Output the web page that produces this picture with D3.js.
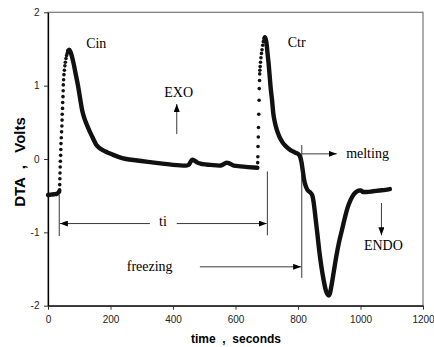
<!DOCTYPE html>
<html>
<head>
<meta charset="utf-8">
<script src="https://cdn.jsdelivr.net/npm/d3@7"></script>
<style>
body { margin: 0; background: #fff; }
svg text { font-family: "Liberation Sans", Arial, sans-serif; }
.note { font-family: "Liberation Serif", "Times New Roman", serif; font-size: 14px; }
.lab { font-weight: bold; white-space: pre; }
</style>
</head>
<body>
<div id="chart"></div>
<script>
// DTA trace, [time s, volts]
var startLine = [[0,-0.49],[10,-0.485],[20,-0.48],[28,-0.475],[33,-0.46],[36,-0.44]];
var cinRise = [[37,-0.42],[37.5,-0.35],[38,-0.27],[38.5,-0.19],[39,-0.11],[39.5,-0.03],[40.5,0.05],[41,0.13],
  [41.5,0.21],[42.5,0.29],[43.5,0.37],[44.5,0.45],[45,0.53],[45.5,0.61],[46.5,0.69],[47,0.77],[48,0.85],
  [48.5,0.93],[49,1.01],[50,1.08],[51,1.15],[52.5,1.21],[54,1.27],[55.5,1.32],[57.5,1.37],[59.5,1.41],
  [61.5,1.44],[63.5,1.47]];
var cinTail = [[65,1.48],[68,1.49],[72,1.46],[77,1.39],[82,1.3],[89,1.15],[96,1.0],[103,0.82],[109,0.67],
  [116,0.56],[124,0.47],[133,0.38],[142,0.3],[150,0.23],[155,0.19],[162,0.16],[175,0.12],[190,0.09],
  [207,0.06],[225,0.03],[250,0.0],[285,-0.02],[320,-0.04],[360,-0.06],[400,-0.08],[440,-0.09],[450,-0.08],
  [456,-0.04],[462,-0.01],[468,-0.02],[478,-0.05],[495,-0.07],[520,-0.08],[548,-0.09],[558,-0.08],
  [566,-0.06],[572,-0.05],[580,-0.06],[595,-0.09],[615,-0.1],[640,-0.11],[670,-0.12]];
var ctrRise = [[671,-0.05],[671.5,0.03],[672,0.17],[673,0.3],[673.5,0.43],[674.5,0.61],[675.5,0.8],[676,0.96],
  [677,1.07],[677.5,1.16],[678,1.21],[679,1.26],[680,1.32],[681.5,1.38],[683,1.44],[685,1.49],[687,1.55],
  [689,1.6],[691,1.64],[693,1.66]];
var ctrTail = [[694,1.66],[697,1.63],[700,1.55],[703,1.42],[706,1.3],[709,1.15],[713,0.95],[717,0.8],[721,0.62],
  [726,0.5],[732,0.4],[740,0.31],[750,0.23],[762,0.17],[776,0.12],[790,0.09],[800,0.07],[806,0.04],[811,-0.04],
  [815,-0.15],[819,-0.27],[824,-0.36],[830,-0.42],[840,-0.46],[846,-0.5],[851,-0.62],[856,-0.8],[862,-1.02],
  [868,-1.25],[875,-1.47],[882,-1.65],[889,-1.79],[895,-1.85],[899,-1.86],[903,-1.82],[907,-1.73],[914,-1.55],
  [922,-1.34],[931,-1.14],[941,-0.96],[950,-0.8],[959,-0.66],[968,-0.56],[977,-0.49],[986,-0.45],[996,-0.43],
  [1002,-0.43],[1008,-0.45],[1020,-0.45],[1040,-0.44],[1060,-0.43],[1080,-0.42],[1094,-0.41]];

var xTicks = [0,200,400,600,800,1000,1200];
var yTicks = [-2,-1,0,1,2];

// annotations in data units
var notes = [["Cin",122,1.51],["Ctr",767,1.53],["EXO",372,0.84],["melting",954,0.01],
  ["freezing",252,-1.53],["ENDO",1011,-1.24]];
var guides = [[36,-0.49,36,-1.05],[702,-0.17,702,-1.04],[812,0.19,812,-1.62]];
var arrows = [[412,0.34,412,0.75],[812,0.07,924,0.07],[486,-1.47,810,-1.47],[326,-0.88,38,-0.88],
  [412,-0.88,700,-0.88],[1067,-0.6,1067,-1.04]];

function drawDTA(){
var width = 434;
var height = 347;
var x = d3.scaleLinear().domain([0,1200]).range([48,423]);
var y = d3.scaleLinear().domain([-2,2]).range([305.7,12.3]);

var svg = d3.select("#chart").append("svg").attr("width", width).attr("height", height);

svg.append("defs").append("marker").attr("id","head")
  .attr("viewBox","0 0 8 6").attr("refX",8).attr("refY",3)
  .attr("markerWidth",8).attr("markerHeight",6)
  .attr("markerUnits","userSpaceOnUse").attr("orient","auto")
  .append("path").attr("d","M0,0L8,3L0,6Z").attr("fill","#000");

svg.append("rect").attr("x",x(0)).attr("y",y(2))
  .attr("width",x(1200)-x(0)).attr("height",y(-2)-y(2))
  .attr("fill","none").attr("stroke","#777").attr("stroke-width",1.2);

var xAxis = svg.append("g").attr("transform","translate(0,"+y(-2)+")")
  .call(d3.axisBottom(x).tickValues(xTicks).tickSize(4).tickSizeOuter(0).tickPadding(6).tickFormat(function(d){ return String(d); }));
var yAxis = svg.append("g").attr("transform","translate("+x(0)+",0)")
  .call(d3.axisLeft(y).tickValues(yTicks).tickSize(4).tickSizeOuter(0).tickPadding(4.5).tickFormat(function(d){ return String(d); }));
[xAxis, yAxis].forEach(function(a){
  a.selectAll("text").attr("font-family","Liberation Sans, Arial, sans-serif").attr("font-size",10).attr("fill","#222");
  a.select(".domain").attr("stroke","#000").attr("stroke-width",1.3);
  a.selectAll(".tick line").attr("stroke","#333");
});

var line = d3.line().x(function(d){ return x(d[0]); }).y(function(d){ return y(d[1]); }).curve(d3.curveMonotoneX);
[startLine, cinTail, ctrTail].forEach(function(seg){
  svg.append("path").datum(seg).attr("d",line)
    .attr("fill","none").attr("stroke","#111").attr("stroke-width",4.4)
    .attr("stroke-linejoin","round").attr("stroke-linecap","round");
});
svg.append("g").selectAll("circle").data(cinRise.concat(ctrRise)).enter().append("circle")
  .attr("cx",function(d){ return x(d[0]); }).attr("cy",function(d){ return y(d[1]); })
  .attr("r",1.8).attr("fill","#111");

svg.append("g").selectAll("line").data(guides).enter().append("line")
  .attr("x1",function(d){ return x(d[0]); }).attr("y1",function(d){ return y(d[1]); })
  .attr("x2",function(d){ return x(d[2]); }).attr("y2",function(d){ return y(d[3]); })
  .attr("stroke","#222").attr("stroke-width",0.9);
svg.append("g").selectAll("line").data(arrows).enter().append("line")
  .attr("x1",function(d){ return x(d[0]); }).attr("y1",function(d){ return y(d[1]); })
  .attr("x2",function(d){ return x(d[2]); }).attr("y2",function(d){ return y(d[3]); })
  .attr("stroke","#222").attr("stroke-width",0.9).attr("marker-end","url(#head)");

svg.append("g").selectAll("text").data(notes).enter().append("text").attr("class","note")
  .attr("x",function(d){ return x(d[1]); }).attr("y",function(d){ return y(d[2]); })
  .text(function(d){ return d[0]; });
svg.append("text").attr("class","note").attr("x",x(368)).attr("y",y(-0.92))
  .attr("text-anchor","middle").text("ti");

svg.append("text").attr("class","lab").attr("font-size",15)
  .attr("transform","translate(25,162) rotate(-90)").attr("text-anchor","middle")
  .text("DTA  ,   Volts");
svg.append("text").attr("class","lab").attr("font-size",12)
  .attr("x",236).attr("y",343).attr("text-anchor","middle")
  .text("time  ,  seconds");
}
drawDTA();
</script>
</body>
</html>
